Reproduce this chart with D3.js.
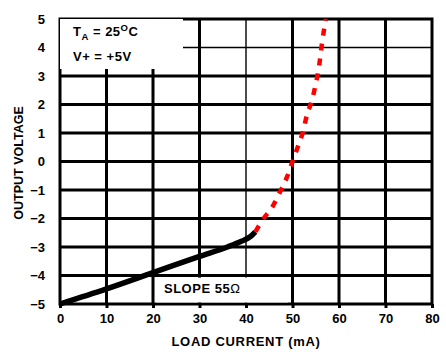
<!DOCTYPE html>
<html>
<head>
<meta charset="utf-8">
<script src="https://cdn.jsdelivr.net/npm/d3@7/dist/d3.min.js"></script>
<style>
  html, body { margin: 0; padding: 0; background: #fff; }
  svg { display: block; }
  text { font-family: "Liberation Sans", Arial, sans-serif; font-weight: bold; fill: #000; }
</style>
</head>
<body>
<svg id="chart" width="446" height="359"></svg>
<script>
// ---- data ----
const xTicks = [0, 10, 20, 30, 40, 50, 60, 70, 80];
const yTicks = [-5, -4, -3, -2, -1, 0, 1, 2, 3, 4, 5];
const blackCurrent = [0, 10, 20, 30, 36, 39, 41, 42];
const blackVoltage = [-5, -4.47, -3.9, -3.33, -3.0, -2.8, -2.63, -2.47];
const redCurrent = [42, 43.7, 45.8, 47.3, 48.8, 50, 51.2, 52.3, 53.1, 54.2, 55, 55.7, 56.1, 56.6, 57.2];
const redVoltage = [-2.47, -2.02, -1.56, -1.07, -0.55, 0, 0.54, 1.07, 1.63, 2.16, 2.72, 3.32, 3.84, 4.44, 5];
const thinX = [40];
const thinY = [4];

const svg = d3.select("#chart");
const x = d3.scaleLinear().domain([0, 80]).range([60, 432]);
const y = d3.scaleLinear().domain([-5, 5]).range([304, 19]);

// gridlines
const g = svg.append("g");
g.selectAll("line.vx").data(xTicks.filter(v => v > 0 && v < 80)).join("line")
  .attr("x1", d => x(d)).attr("x2", d => x(d)).attr("y1", y(5)).attr("y2", y(-5))
  .attr("stroke", "#000").attr("stroke-width", d => thinX.includes(d) ? 1.4 : 3);
g.selectAll("line.hy").data(yTicks.filter(v => v > -5 && v < 5)).join("line")
  .attr("x1", x(0)).attr("x2", x(80)).attr("y1", d => y(d)).attr("y2", d => y(d))
  .attr("stroke", "#000").attr("stroke-width", d => thinY.includes(d) ? 1.4 : 3);

// axes
const xAxis = svg.append("g").attr("transform", `translate(0,${y(-5)})`)
  .call(d3.axisBottom(x).tickValues(xTicks).tickSize(4).tickPadding(6).tickFormat(d3.format("d")));
xAxis.select(".domain").remove();
xAxis.selectAll(".tick line").attr("stroke-width", 3);
xAxis.selectAll("text").attr("font-size", 13).style("font-family", "'Liberation Sans', Arial, sans-serif").style("font-weight", "bold");

const yAxis = svg.append("g").attr("transform", `translate(${x(0)},0)`)
  .call(d3.axisLeft(y).tickValues(yTicks).tickSize(0).tickPadding(15).tickFormat(d3.format("d")));
yAxis.select(".domain").remove();
yAxis.selectAll("text").attr("font-size", 13).style("font-family", "'Liberation Sans', Arial, sans-serif").style("font-weight", "bold");

// frame
svg.append("rect").attr("x", x(0)).attr("y", y(5)).attr("width", x(80) - x(0)).attr("height", y(-5) - y(5))
  .attr("fill", "none").attr("stroke", "#000").attr("stroke-width", 3);

// legend box
svg.append("rect").attr("x", x(0)).attr("y", y(5)).attr("width", 183 - x(0)).attr("height", 69 - y(5)).attr("fill", "#fff");
const leg = svg.append("text").attr("x", 73).attr("y", 36).attr("font-size", 13).attr("letter-spacing", 0.5);
leg.append("tspan").text("T");
leg.append("tspan").attr("font-size", 9.5).attr("dy", 4).text("A");
leg.append("tspan").attr("dy", -4).text(" = 25");
leg.append("tspan").attr("font-size", 9.5).attr("dy", -5).text("O");
leg.append("tspan").attr("dy", 5).text("C");
svg.append("text").attr("x", 73).attr("y", 61).attr("font-size", 13).attr("letter-spacing", 0.5).text("V+ = +5V");

// slope label box
svg.append("rect").attr("x", 156).attr("y", 277.6).attr("width", 132).attr("height", 24.8).attr("fill", "#fff");
const sl = svg.append("text").attr("x", 164).attr("y", 293).attr("font-size", 13).attr("letter-spacing", 0.5);
sl.append("tspan").text("SLOPE 55");
sl.append("tspan").style("font-weight", "normal").text("\u03A9");

// curves
const line = d3.line().x(d => x(d[0])).y(d => y(d[1])).curve(d3.curveMonotoneX);
svg.append("path").datum(blackCurrent.map((c, i) => [c, blackVoltage[i]]))
  .attr("d", line).attr("fill", "none").attr("stroke", "#000").attr("stroke-width", 5.5).attr("stroke-linecap", "butt");
svg.append("path").datum(redCurrent.map((c, i) => [c, redVoltage[i]]))
  .attr("d", line).attr("fill", "none").attr("stroke", "#ff0000").attr("stroke-width", 4.5)
  .attr("stroke-dasharray", "7,8");

// axis titles
svg.append("text").attr("x", 246).attr("y", 346).attr("text-anchor", "middle").attr("font-size", 13).attr("letter-spacing", 0.7).text("LOAD CURRENT (mA)");
svg.append("text").attr("transform", "translate(23,163) rotate(-90)").attr("text-anchor", "middle").attr("font-size", 12.5).text("OUTPUT VOLTAGE");
</script>
</body>
</html>
